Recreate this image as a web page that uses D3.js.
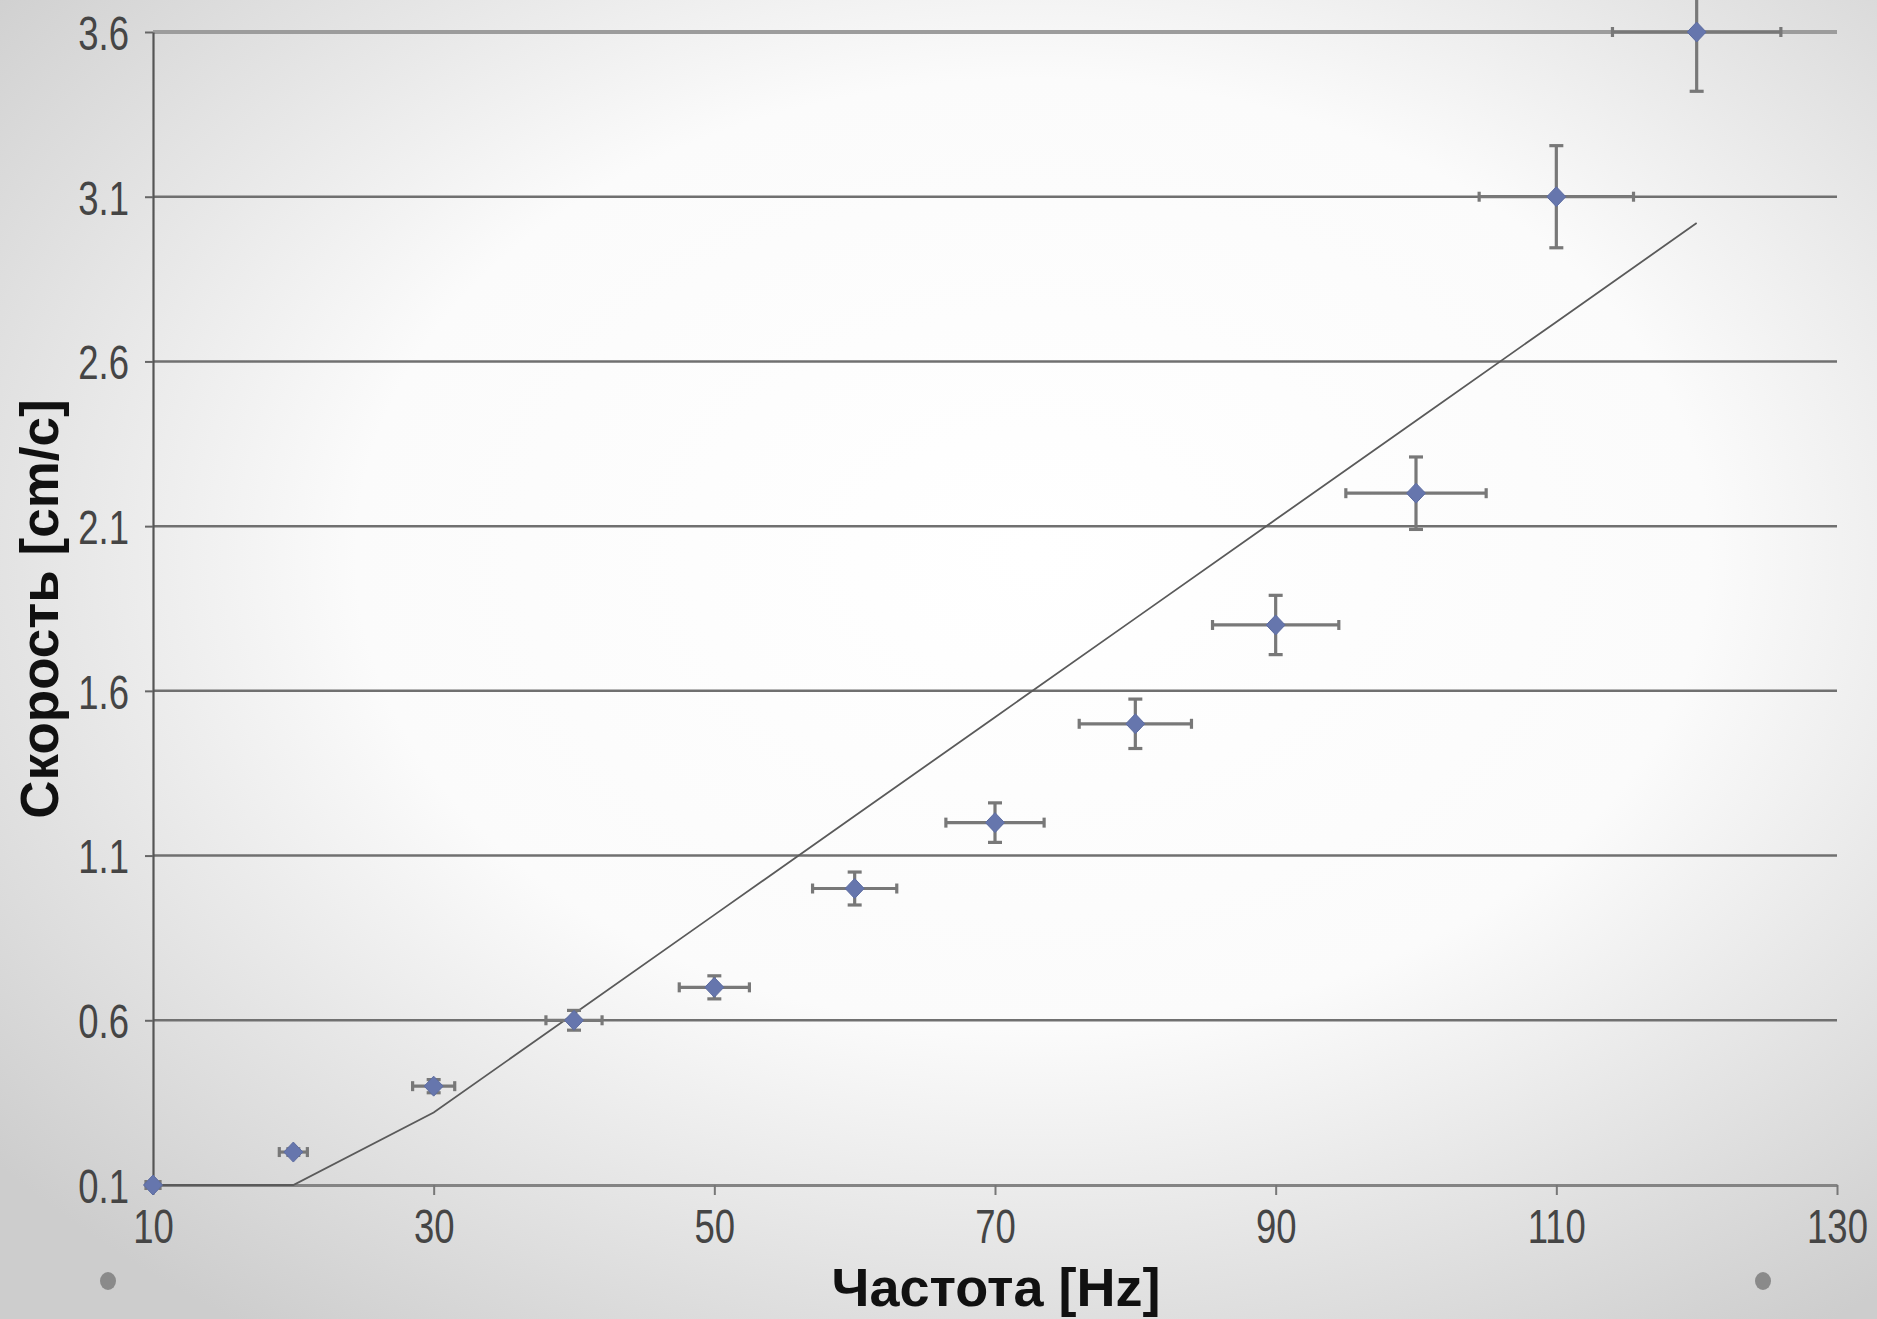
<!DOCTYPE html>
<html>
<head>
<meta charset="utf-8">
<script src="https://cdn.jsdelivr.net/npm/d3@7"></script>
<style>
  html, body { margin: 0; padding: 0; overflow: hidden; }
  svg { display: block; }
</style>
</head>
<body>
<div id="chart-area"></div>
<script>
// Measured points: frequency (Hz) and speed (cm/s), with their errors
const freq = [10, 20, 30, 40, 50, 60, 70, 80, 90, 100, 110, 120]
const speed = [0.1, 0.2, 0.4, 0.6, 0.7, 1.0, 1.2, 1.5, 1.8, 2.2, 3.1, 3.6]
const freqErr = [0.5, 1, 1.5, 2, 2.5, 3, 3.5, 4, 4.5, 5, 5.5, 6]
const speedErr = [0.005, 0.01, 0.02, 0.03, 0.035, 0.05, 0.06, 0.075, 0.09, 0.11, 0.155, 0.18]

// Theoretical curve at the same frequencies
const theory = [0.1, 0.1, 0.32, 0.62, 0.92, 1.22, 1.52, 1.82, 2.12, 2.42, 2.72, 3.02]

// Axis ticks
const xTicks = [10, 30, 50, 70, 90, 110, 130]
const yTicks = [0.1, 0.6, 1.1, 1.6, 2.1, 2.6, 3.1, 3.6]

const W = 1877
const H = 1319
const MARGINS = { TOP: 32, BOTTOM: 134, LEFT: 153, RIGHT: 40 }

const svg = d3.select('#chart-area').append("svg")
	.attr("width", W)
	.attr("height", H)

// Soft radial background
const defs = svg.append("defs")
const bg = defs.append("radialGradient")
	.attr("id", "bg")
	.attr("cx", "55%")
	.attr("cy", "42%")
	.attr("r", "72%")
bg.append("stop").attr("offset", "0").attr("stop-color", "#ffffff")
bg.append("stop").attr("offset", "0.5").attr("stop-color", "#fbfbfb")
bg.append("stop").attr("offset", "1").attr("stop-color", "#cdcdcd")

svg.append("rect")
	.attr("width", W)
	.attr("height", H)
	.attr("fill", "url(#bg)")

// Scales
const x = d3.scaleLinear()
	.domain([10, 130])
	.range([MARGINS.LEFT, W - MARGINS.RIGHT])

const y = d3.scaleLinear()
	.domain([0.1, 3.6])
	.range([H - MARGINS.BOTTOM, MARGINS.TOP])

const FONT = "'Liberation Sans', Arial, sans-serif"

// Horizontal gridlines
svg.append("g")
	.selectAll("line")
	.data(yTicks.slice(1))
	.enter().append("line")
	.attr("x1", x(10))
	.attr("x2", x(130))
	.attr("y1", d => y(d))
	.attr("y2", d => y(d))
	.attr("stroke", d => d === 3.6 ? "#9c9c9c" : "#707070")
	.attr("stroke-width", d => d === 3.6 ? 4 : 2.5)

// y axis
const yAxisCall = d3.axisLeft(y)
	.tickValues(yTicks)
	.tickSize(8)
	.tickSizeOuter(0)
	.tickFormat(d3.format(".1f"))
const yAxis = svg.append("g")
	.attr("transform", `translate(${MARGINS.LEFT}, 0)`)
	.call(yAxisCall)
yAxis.select(".domain").attr("stroke", "#555").attr("stroke-width", 2.2)
yAxis.selectAll(".tick line").attr("stroke", "#666").attr("stroke-width", 2)
yAxis.selectAll(".tick text")
	.attr("font-family", FONT)
	.attr("font-size", 48)
	.attr("fill", "#454545")
	.attr("x", -24 / 0.76)
	.attr("dy", "0.36em")
	.attr("transform", "scale(0.76,1)")

// x axis
const xAxisCall = d3.axisBottom(x)
	.tickValues(xTicks)
	.tickSize(10)
	.tickSizeOuter(0)
	.tickFormat(d => d)
const xAxis = svg.append("g")
	.attr("transform", `translate(0, ${H - MARGINS.BOTTOM})`)
	.call(xAxisCall)
xAxis.select(".domain").attr("stroke", "#848484").attr("stroke-width", 3)
xAxis.selectAll(".tick line").attr("stroke", "#777").attr("stroke-width", 2)
xAxis.selectAll(".tick text")
	.attr("font-family", FONT)
	.attr("font-size", 48)
	.attr("fill", "#454545")
	.attr("x", 0)
	.attr("y", 58)
	.attr("dy", 0)
	.attr("transform", "scale(0.76,1)")

// Theory line
const line = d3.line()
	.x((d, i) => x(freq[i]))
	.y(d => y(d))
svg.append("path")
	.datum(theory)
	.attr("d", line)
	.attr("fill", "none")
	.attr("stroke", "#5a5a5a")
	.attr("stroke-width", 1.8)

// Error bars
const points = freq.map((f, i) => ({ f: f, v: speed[i], df: freqErr[i], dv: speedErr[i] }))
const errG = svg.append("g")
	.attr("stroke", "#787878")
	.attr("stroke-width", 3.2)

points.forEach(p => {
	const cx = x(p.f)
	const cy = y(p.v)
	const x0 = x(p.f - p.df), x1 = x(p.f + p.df)
	const y0 = y(p.v - p.dv), y1 = y(p.v + p.dv)
	errG.append("line").attr("x1", x0).attr("x2", x1).attr("y1", cy).attr("y2", cy)
	errG.append("line").attr("x1", x0).attr("x2", x0).attr("y1", cy - 5).attr("y2", cy + 5)
	errG.append("line").attr("x1", x1).attr("x2", x1).attr("y1", cy - 5).attr("y2", cy + 5)
	errG.append("line").attr("x1", cx).attr("x2", cx).attr("y1", y0).attr("y2", y1)
	errG.append("line").attr("x1", cx - 7).attr("x2", cx + 7).attr("y1", y0).attr("y2", y0)
	errG.append("line").attr("x1", cx - 7).attr("x2", cx + 7).attr("y1", y1).attr("y2", y1)
})

// Diamond markers
svg.append("g")
	.selectAll("path")
	.data(points)
	.enter().append("path")
	.attr("transform", d => `translate(${x(d.f)}, ${y(d.v)})`)
	.attr("d", "M0,-10L9.5,0L0,10L-9.5,0Z")
	.attr("fill", "#6676ad")
	.attr("stroke", "#5d6ca0")
	.attr("stroke-width", 1)

// Axis titles
svg.append("text")
	.attr("x", 996)
	.attr("y", 1306)
	.attr("text-anchor", "middle")
	.attr("font-family", FONT)
	.attr("font-weight", "bold")
	.attr("font-size", 54)
	.attr("fill", "#111")
	.text("Частота [Hz]")

svg.append("text")
	.attr("transform", "translate(58, 609) rotate(-90)")
	.attr("text-anchor", "middle")
	.attr("font-family", FONT)
	.attr("font-weight", "bold")
	.attr("font-size", 53)
	.attr("fill", "#111")
	.text("Скорость [cm/c]")

// Slide bullets
svg.append("g")
	.selectAll("ellipse")
	.data([108, 1763])
	.enter().append("ellipse")
	.attr("cx", d => d)
	.attr("cy", 1281)
	.attr("rx", 8)
	.attr("ry", 9)
	.attr("fill", "#8a8a8a")
</script>
</body>
</html>
